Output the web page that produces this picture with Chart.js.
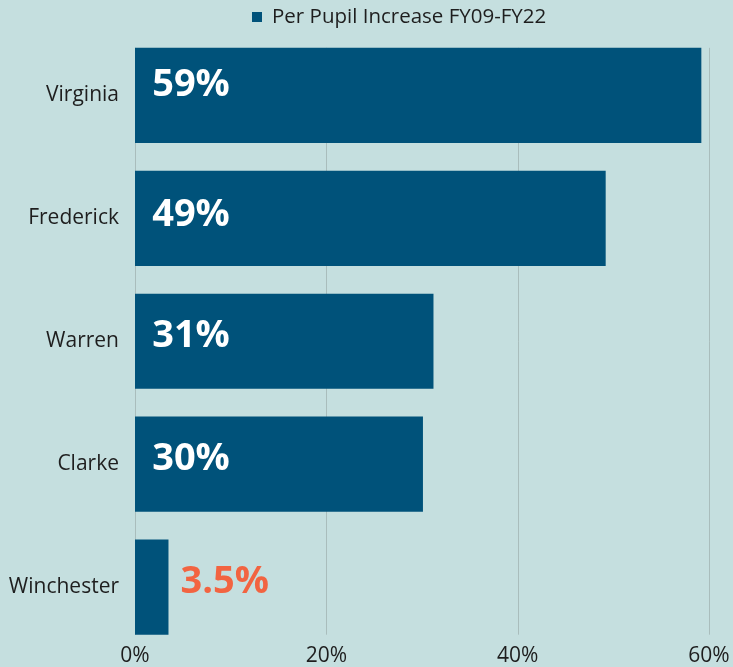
<!DOCTYPE html>
<html>
<head>
<meta charset="utf-8">
<script src="https://cdn.jsdelivr.net/npm/chart.js@4.4.1/dist/chart.umd.min.js"></script>
<style>
  html, body { margin: 0; padding: 0; background: #c5dfdf; }
  #wrap { width: 733px; height: 667px; }
</style>
</head>
<body>
<div id="wrap"><canvas id="c" width="733" height="667"></canvas></div>
<script>
const categories = ["Virginia", "Frederick", "Warren", "Clarke", "Winchester"];
const perPupilIncrease = [59.2, 49.2, 31.2, 30.1, 3.5];
const valueLabels = ["59%", "49%", "31%", "30%", "3.5%"];
const xTicks = [0, 20, 40, 60];
const seriesName = "Per Pupil Increase FY09-FY22";

const BAR = "#00527a";
const ORANGE = "#f26441";
const GRID = "#a9bdbc";
const TEXT = "#1e1e1e";

const gridPlugin = {
  id: "customGrid",
  beforeDatasetsDraw(chart) {
    const ctx = chart.ctx;
    const xs = chart.scales.x;
    const meta = chart.getDatasetMeta(0);
    const first = meta.data[0], last = meta.data[meta.data.length - 1];
    const top = first.y - first.height / 2;
    const bottom = last.y + last.height / 2;
    ctx.save();
    ctx.strokeStyle = GRID;
    ctx.lineWidth = 1;
    xTicks.forEach(v => {
      const x = Math.round(xs.getPixelForValue(v)) + 0.5;
      ctx.beginPath();
      ctx.moveTo(x, top);
      ctx.lineTo(x, bottom);
      ctx.stroke();
    });
    ctx.restore();
  }
};

const labelPlugin = {
  id: "valueLabels",
  afterDatasetsDraw(chart) {
    const ctx = chart.ctx;
    const xs = chart.scales.x;
    const meta = chart.getDatasetMeta(0);
    const nudge = [-10, -3, -5, -5, -5];
    ctx.save();
    ctx.font = "bold 38px 'Open Sans'";
    ctx.textBaseline = "middle";
    meta.data.forEach((bar, i) => {
      const y = bar.y + nudge[i];
      const x0 = xs.getPixelForValue(0);
      if (bar.x - x0 > 120) {
        ctx.fillStyle = "#ffffff";
        ctx.textAlign = "center";
        ctx.fillText(valueLabels[i], x0 + 56, y);
      } else {
        ctx.fillStyle = ORANGE;
        ctx.textAlign = "left";
        ctx.fillText(valueLabels[i], bar.x + 12, y);
      }
    });
    ctx.restore();
  }
};

const legendPlugin = {
  id: "customLegend",
  afterDraw(chart) {
    const ctx = chart.ctx;
    ctx.save();
    ctx.fillStyle = BAR;
    ctx.fillRect(252, 12, 10, 10);
    ctx.fillStyle = TEXT;
    ctx.font = "20.5px 'Open Sans'";
    ctx.textAlign = "left";
    ctx.textBaseline = "middle";
    ctx.fillText(seriesName, 272, 17);
    ctx.restore();
  }
};

function noPad(scale) {
  scale.paddingTop = 0;
  scale.paddingBottom = 0;
  scale.paddingLeft = 0;
  scale.paddingRight = 0;
  scale._computeLabelArea = () => undefined;
}

new Chart(document.getElementById("c"), {
  type: "bar",
  data: {
    labels: categories,
    datasets: [{
      label: seriesName,
      data: perPupilIncrease,
      backgroundColor: BAR,
      borderWidth: 0,
      categoryPercentage: 1,
      barPercentage: 0.775
    }]
  },
  options: {
    indexAxis: "y",
    responsive: false,
    animation: false,
    layout: { padding: { top: 34, right: 24, left: 0, bottom: 0 } },
    plugins: {
      legend: { display: false },
      tooltip: { enabled: false }
    },
    scales: {
      x: {
        min: 0, max: 60,
        afterBuildTicks(scale) { scale.ticks = xTicks.map(v => ({ value: v })); },
        afterFit(scale) { scale.height = 18.5; noPad(scale); },
        grid: { display: false, drawTicks: false },
        border: { display: false },
        ticks: {
          padding: -5,
          color: TEXT,
          font: { family: "'Open Sans'", size: 21 },
          callback: v => v + "%"
        }
      },
      y: {
        afterFit(scale) { scale.width = 135; noPad(scale); },
        grid: { display: false, drawTicks: false },
        border: { display: false },
        ticks: {
          padding: 16,
          color: TEXT,
          font: { family: "'Open Sans'", size: 21 }
        }
      }
    }
  },
  plugins: [gridPlugin, labelPlugin, legendPlugin]
});
</script>
</body>
</html>
